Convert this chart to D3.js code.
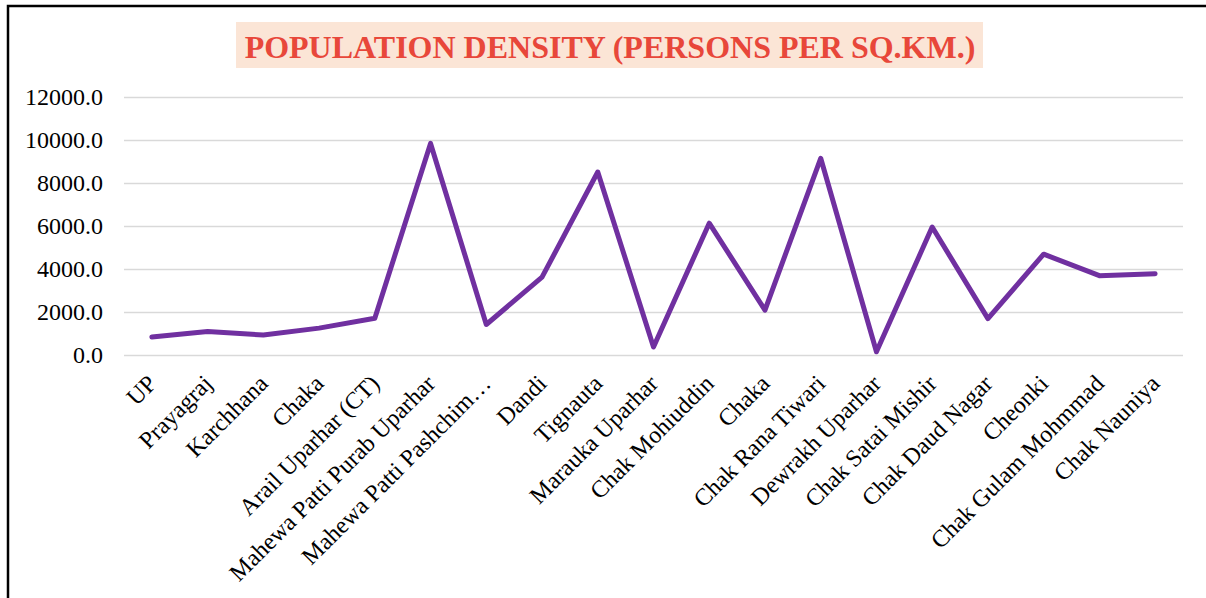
<!DOCTYPE html>
<html>
<head>
<meta charset="utf-8">
<script src="https://cdn.jsdelivr.net/npm/d3@7"></script>
<style>
  body { margin: 0; background: #fff; }
  text { font-family: "Times New Roman", "Liberation Serif", serif; }
</style>
</head>
<body>
<div id="chart"></div>
<script>
var svgWidth = 1206;
var svgHeight = 598;

// data
var places = ["UP", "Prayagraj", "Karchhana", "Chaka", "Arail Uparhar (CT)",
  "Mahewa Patti Purab Uparhar", "Mahewa Patti Pashchim…", "Dandi", "Tignauta",
  "Marauka Uparhar", "Chak Mohiuddin", "Chaka", "Chak Rana Tiwari",
  "Dewrakh Uparhar", "Chak Satai Mishir", "Chak Daud Nagar", "Cheonki",
  "Chak Gulam Mohmmad", "Chak Nauniya"];
var density = [840, 1090, 930, 1250, 1710, 9840, 1420, 3620, 8510, 370,
  6130, 2090, 9150, 150, 5950, 1690, 4690, 3690, 3780];
var yTicks = [0, 2000, 4000, 6000, 8000, 10000, 12000];

var plot = { left: 124, right: 1183, top: 97, bottom: 355 };

var svg = d3.select("#chart")
  .append("svg")
  .attr("width", svgWidth)
  .attr("height", svgHeight);

// outer frame (right and bottom edges fall outside the picture)
svg.append("rect")
  .attr("x", 8)
  .attr("y", 6)
  .attr("width", 1300)
  .attr("height", 700)
  .attr("fill", "none")
  .attr("stroke", "#000")
  .attr("stroke-width", 2.5);

// title
svg.append("rect")
  .attr("x", 236)
  .attr("y", 22)
  .attr("width", 747)
  .attr("height", 46)
  .attr("fill", "#FBE5D6");

svg.append("text")
  .attr("x", 610)
  .attr("y", 58)
  .attr("text-anchor", "middle")
  .attr("font-size", 32)
  .attr("font-weight", "bold")
  .attr("fill", "#E8473A")
  .text("POPULATION DENSITY (PERSONS PER SQ.KM.)");

var x = d3.scaleBand()
  .domain(d3.range(places.length))
  .range([plot.left, plot.right]);

var y = d3.scaleLinear()
  .domain([0, 12000])
  .range([plot.bottom, plot.top]);

// gridlines + y labels
var yAxis = svg.append("g")
  .attr("transform", `translate(${plot.left}, 0)`)
  .call(d3.axisLeft(y)
    .tickValues(yTicks)
    .tickFormat(d3.format(".1f"))
    .tickSize(-(plot.right - plot.left))
    .tickPadding(21));

yAxis.select(".domain").remove();
yAxis.selectAll(".tick line")
  .attr("stroke", "#D9D9D9")
  .attr("stroke-width", 1.5);
yAxis.selectAll(".tick text")
  .attr("font-size", 24)
  .attr("fill", "#000")
  .style("font-family", "'Times New Roman', 'Liberation Serif', serif");

// x labels, rotated
var xAxis = svg.append("g")
  .attr("transform", `translate(0, ${plot.bottom})`)
  .call(d3.axisBottom(x)
    .tickFormat(i => places[i])
    .tickSize(0)
    .tickPadding(0));

xAxis.select(".domain").remove();
xAxis.selectAll(".tick text")
  .attr("font-size", 24)
  .attr("fill", "#000")
  .style("font-family", "'Times New Roman', 'Liberation Serif', serif")
  .attr("text-anchor", "end")
  .attr("dy", null)
  .attr("y", 0)
  .attr("transform", "translate(6, 30) rotate(-45)");

// the line
var line = d3.line()
  .x((d, i) => x(i) + x.bandwidth() / 2)
  .y(d => y(d));

svg.append("path")
  .datum(density)
  .attr("d", line)
  .attr("fill", "none")
  .attr("stroke", "#7030A0")
  .attr("stroke-width", 5)
  .attr("stroke-linejoin", "round")
  .attr("stroke-linecap", "round");
</script>
</body>
</html>
